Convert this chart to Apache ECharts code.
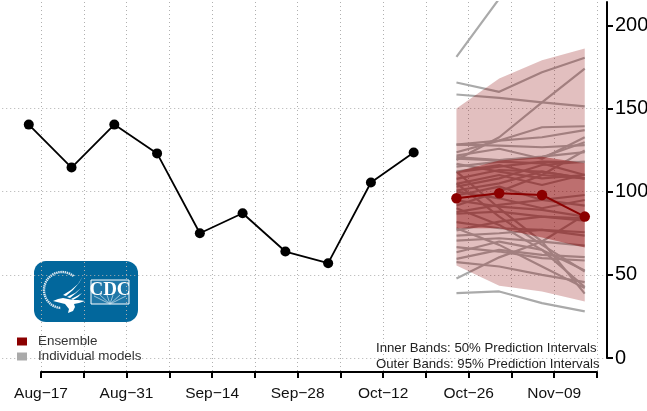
<!DOCTYPE html>
<html>
<head>
<meta charset="utf-8">
<style>html,body{margin:0;padding:0;background:#fff}#c{width:647px;height:411px}</style>
<script src="https://cdn.jsdelivr.net/npm/echarts@6/dist/echarts.min.js"></script>
</head>
<body>
<div id="c"></div>
<script>
// x values are days counted from the Aug-17 tick
var tickLabels = {0:'Aug\u221217',14:'Aug\u221231',28:'Sep\u221214',42:'Sep\u221228',56:'Oct\u221212',70:'Oct\u221226',84:'Nov\u221209'};
var observedDays = [-2,5,12,19,26,33,40,47,54,61];
var observedValues = [140.3,114.5,140.3,123,75,87,64,57,105.5,123.5];
var forecastDays = [68,75,82,89];
var ensembleValues = [96,99,98,85];
var outerLow = [55.6,43.5,40,34];
var outerHigh = [150,168,179,186];
var innerLow = [78,78,72.4,66.4];
var innerHigh = [112,118.7,121,117];
var modelRuns = [
 [181,216,250,285],[165.6,160,171.8,180.5],[158.4,156.4,153.7,151.3],[119,132.7,153.7,174],
 [128.3,130.7,138.7,139.3],[128.3,127.7,126.7,128],[123.7,130.7,132.7,137],[121.7,125.8,119.8,132.7],
 [119.8,118.8,120.7,129.7],[120.7,119,121,123.7],[116.7,112,108,110],[111.7,115,118,117.7],
 [107.7,113,112,107.8],[104.7,110,104,110.3],[100.7,105,112,108],[97.7,103,95,91.6],
 [94.7,91,89,85],[91.7,100,110,124.7],[87.7,92,95,98],[86.7,88,85,82.6],
 [81.7,78,77,75.6],[76.7,82,85,84],[73.6,75,77,73.6],[70.6,72,70,67.6],
 [66.6,64,60,58.6],[63.6,70,65,52.6],[59.6,65,62,60.6],[57.6,55,50,45.6],
 [47.8,60.5,70,86],[39,40,33,28],[90,80,65,42.6],[112,90,70,38.7],[105,85,68,52],[78,68,55,42],
 [112,116,110,108],[115,118,117,110],[103,108,116,118],[100,96,90,95]
];
var yTicks = [0,50,100,150,200];

var FONT = '"Liberation Sans", Arial, sans-serif';
var DARK = '#8b0000', GRAY = '#aaaaaa';
var dotted = {show:true,lineStyle:{color:'#b0b0b0',type:[1,3],width:1}};
function pairs(xs,ys){return xs.map(function(x,i){return [x,ys[i]];});}
function band(name,lo,hi,opacity,z){
  return {type:'custom',name:name,xAxisIndex:0,yAxisIndex:0,z:z,silent:true,clip:true,
    data:forecastDays.map(function(x,i){return [x,lo[i],hi[i]];}),
    encode:{x:0,y:[1,2]},
    renderItem:function(p,api){
      if(p.dataIndex!==0) return null;
      var top=[],bottom=[];
      forecastDays.forEach(function(x,i){
        top.push(api.coord([x,hi[i]]));
        bottom.unshift(api.coord([x,lo[i]]));
      });
      return {type:'polygon',shape:{points:top.concat(bottom)},style:{fill:DARK,opacity:opacity}};
    }};
}
var series = modelRuns.map(function(run){
  return {type:'line',name:'Individual models',xAxisIndex:0,yAxisIndex:0,z:2,silent:true,
    data:pairs(forecastDays,run),showSymbol:false,symbol:'none',
    lineStyle:{color:GRAY,width:2.2}};
});
series.push(band('95% interval',outerLow,outerHigh,0.25,3));
series.push(band('50% interval',innerLow,innerHigh,0.42,4));
series.push({type:'line',name:'Observed',xAxisIndex:0,yAxisIndex:0,z:5,data:pairs(observedDays,observedValues),
  symbol:'circle',symbolSize:10,itemStyle:{color:'#000'},lineStyle:{color:'#000',width:1.8}});
series.push({type:'line',name:'Ensemble',xAxisIndex:0,yAxisIndex:0,z:6,data:pairs(forecastDays,ensembleValues),
  symbol:'circle',symbolSize:10.5,itemStyle:{color:DARK},lineStyle:{color:DARK,width:2}});
// carries the lower part of the vertical grid lines and the labelled date axis
series.push({type:'line',xAxisIndex:1,yAxisIndex:1,data:[],silent:true});

function white(points){return {type:'polygon',shape:{points:points},style:{fill:'#fff'}};}
function ray(x,y){return {type:'line',shape:{x1:110,y1:304,x2:x,y2:y},style:{stroke:'#cfe3ee',lineWidth:0.7}};}

var option = {
  animation:false,
  backgroundColor:'#fff',
  textStyle:{fontFamily:FONT},
  legend:{
    orient:'vertical',left:17,top:335,itemWidth:10,itemHeight:8,itemGap:2,padding:0,
    selectedMode:false,
    textStyle:{fontFamily:FONT,fontSize:13.4,color:'#333',padding:[0,0,0,6]},
    data:[{name:'Ensemble',icon:'rect',itemStyle:{color:DARK},lineStyle:{opacity:0}},
          {name:'Individual models',icon:'rect',itemStyle:{color:GRAY},lineStyle:{opacity:0}}]
  },
  grid:[
    {left:-1.77,right:40,top:2,height:356,outerBoundsMode:'none'},
    {left:41,width:556,top:358,height:14,outerBoundsMode:'none'}
  ],
  xAxis:[
    {type:'value',gridIndex:0,min:-7,max:92.64,interval:7,
      axisLine:{show:false},axisTick:{show:false},axisLabel:{show:false},
      splitLine:Object.assign({},dotted,{showMaxLine:false})},
    {type:'value',gridIndex:1,min:0,max:91,interval:7,position:'bottom',
      axisLine:{show:true,onZero:false,lineStyle:{color:'#000',width:2}},
      axisTick:{show:true,length:6,lineStyle:{color:'#000',width:2}},
      splitLine:dotted,
      axisLabel:{show:true,margin:14,fontFamily:FONT,fontSize:15.5,color:'#111',
        formatter:function(v){return tickLabels[v]||'';}}}
  ],
  yAxis:[
    {type:'value',gridIndex:0,position:'right',min:0,max:214,interval:50,
      axisLine:{show:true,onZero:false,lineStyle:{color:'#000',width:2}},
      axisTick:{show:true,length:6,lineStyle:{color:'#000',width:2},customValues:yTicks},
      axisLabel:{show:true,margin:8,fontFamily:FONT,fontSize:20,color:'#000',customValues:yTicks},
      splitLine:Object.assign({},dotted,{showMaxLine:false})},
    {type:'value',gridIndex:1,min:0,max:1,show:false,axisLine:{show:false},axisTick:{show:false},axisLabel:{show:false},splitLine:{show:false}}
  ],
  series:series,
  graphic:{elements:[
    {type:'text',left:376,top:342,z:20,style:{text:'Inner Bands: 50% Prediction Intervals',font:'13.2px '+FONT,fill:'#222'}},
    {type:'text',left:376,top:358,z:20,style:{text:'Outer Bands: 95% Prediction Intervals',font:'13.2px '+FONT,fill:'#222'}},
    {type:'group',z:20,children:[
      {type:'rect',shape:{x:34,y:261,width:104,height:61,r:12},style:{fill:'#02679c'}},
      {type:'arc',shape:{cx:62,cy:290,r:18,startAngle:-Math.PI*0.28,endAngle:Math.PI*0.52,clockwise:false},
        style:{stroke:'#dfeaf2',fill:null,lineWidth:2.4,lineDash:[1.4,0.7]}},
      white([[83,276],[79,283],[73,290],[66,296],[63,295],[71,290],[78,284]]),
      white([[85,282],[81,288],[76,293],[70,298],[67,297],[75,293],[81,288]]),
      white([[85,288],[82,293],[78,297],[73,300],[71,299],[77,296],[82,293]]),
      white([[53,301],[58,299],[63,298],[68,299],[73,300],[78,300],[85,301],[79,303],[74,304],[75,307],[73,311],[68,313],[69,309],[65,304],[61,303]]),
      {type:'rect',shape:{x:91,y:280,width:38,height:24},style:{fill:'#1f77a8',stroke:'#fff',lineWidth:1}},
      ray(94,296),ray(100,295),ray(107,295),ray(113,295),ray(120,295),ray(126,296),
      {type:'text',x:110,y:290,style:{text:'CDC',font:'bold 19px "Liberation Serif", serif',fill:'#fff',align:'center',verticalAlign:'middle'}}
    ]}
  ]}
};
echarts.init(document.getElementById('c'),null,{renderer:'canvas'}).setOption(option);
</script>
</body>
</html>
